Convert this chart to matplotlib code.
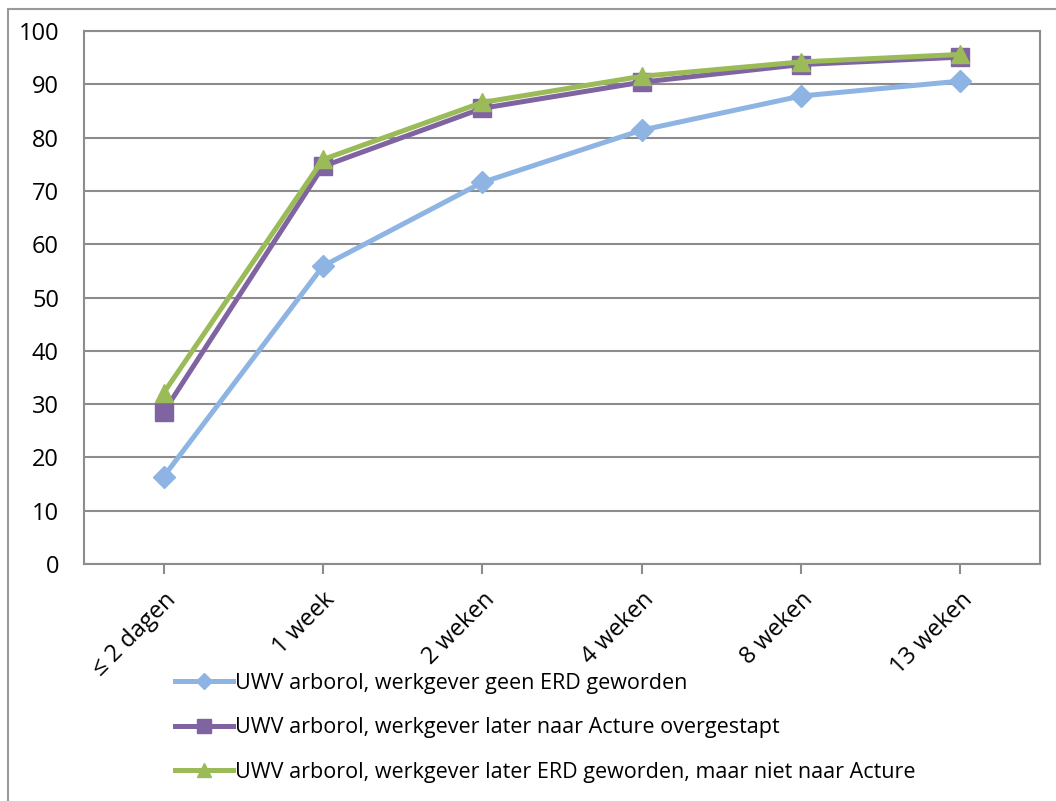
import matplotlib.pyplot as plt
from matplotlib.patches import Rectangle

# datos
categorias = ["≤ 2 dagen", "1 week", "2 weken", "4 weken", "8 weken", "13 weken"]
geen_erd = [16.4, 55.9, 71.6, 81.4, 87.8, 90.6]
naar_acture = [28.5, 74.6, 85.5, 90.4, 93.7, 95.1]
erd_niet_acture = [32.1, 75.9, 86.6, 91.5, 94.2, 95.6]

labels = [
    "UWV arborol, werkgever geen ERD geworden",
    "UWV arborol, werkgever later naar Acture overgestapt",
    "UWV arborol, werkgever later ERD geworden, maar niet naar Acture",
]

plt.rcParams["font.family"] = ["Open Sans", "DejaVu Sans"]

fig = plt.figure(figsize=(10.56, 8.01), dpi=100)
ax = fig.add_axes([84 / 1056, 1 - 564 / 801, (1040 - 84) / 1056, (564 - 31) / 801])

# marco exterior
fig.patches.append(Rectangle((8 / 1056, -0.05), 1.1, 1 - 9 / 801 + 0.05,
                             transform=fig.transFigure, fill=False,
                             edgecolor="#999999", linewidth=1.5))

x = list(range(len(categorias)))
gris = "#8c8c8c"

ax.plot(x, geen_erd, color="#8eb4e3", linewidth=3.6, marker="D", markersize=11,
        label=labels[0], zorder=3)
ax.plot(x, naar_acture, color="#8064a2", linewidth=3.6, marker="s", markersize=13,
        label=labels[1], zorder=4)
ax.plot(x, erd_niet_acture, color="#9bbb59", linewidth=3.6, marker="^", markersize=13,
        label=labels[2], zorder=5)

ax.set_xlim(-0.5, len(categorias) - 0.5)
ax.set_ylim(0, 100)
ax.set_yticks(range(0, 101, 10))
ax.set_xticks(x)
ax.set_xticklabels(categorias, rotation=45, ha="right", rotation_mode="anchor")

ax.grid(axis="y", color=gris, linewidth=1.5)
ax.set_axisbelow(True)
for s in ax.spines.values():
    s.set_color(gris)
    s.set_linewidth(1.5)

ax.tick_params(axis="y", length=0, labelsize=17, pad=18)
ax.tick_params(axis="x", length=7, color=gris, width=1.5, labelsize=17, pad=10)

fig.legend(loc="upper left", bbox_to_anchor=(166 / 1056, 1 - 664 / 801),
           frameon=False, fontsize=15.5, labelspacing=1.1, handlelength=2.7,
           handletextpad=0.1, borderaxespad=0, markerscale=0.75)

plt.savefig("out.png", dpi=100)
